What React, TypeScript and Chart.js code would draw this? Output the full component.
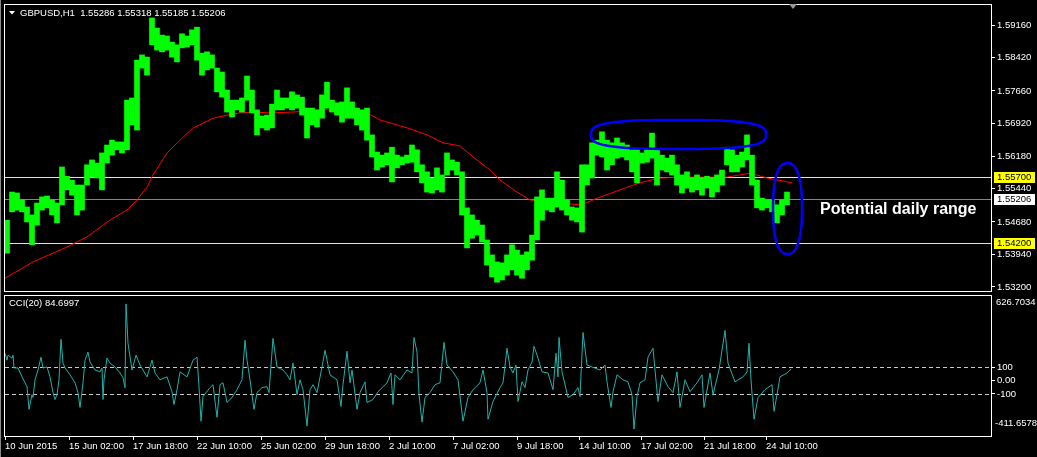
import React, { useEffect, useRef } from "react";
import { Chart, registerables } from "chart.js";

Chart.register(...registerables);

const FONT = "'Liberation Sans', Arial, sans-serif";

// GBPUSD H1 price, aggregated in groups of 5 hourly bars (high / low of each group)
const groupSize = 5;
const groupHigh = [
  1.5472, 1.5536, 1.5534, 1.5518, 1.5502, 1.5484, 1.5511, 1.5525, 1.5527, 1.5518,
  1.5511, 1.5593, 1.5572, 1.5563, 1.5552, 1.5552, 1.5598, 1.5609, 1.5602, 1.5625,
  1.5643, 1.5654, 1.5650, 1.5650, 1.5745, 1.5750, 1.5836, 1.5848, 1.5843, 1.5932,
  1.5909, 1.5893, 1.5891, 1.5877, 1.5871, 1.5896, 1.5891, 1.5905, 1.5911, 1.5852,
  1.5855, 1.5848, 1.5818, 1.5809, 1.5768, 1.5745, 1.5745, 1.5750, 1.5800, 1.5768,
  1.5723, 1.5709, 1.5711, 1.5736, 1.5768, 1.5750, 1.5750, 1.5764, 1.5757, 1.5752,
  1.5727, 1.5727, 1.5723, 1.5757, 1.5786, 1.5745, 1.5739, 1.5741, 1.5773, 1.5741,
  1.5727, 1.5723, 1.5727, 1.5666, 1.5627, 1.5620, 1.5625, 1.5638, 1.5620, 1.5616,
  1.5620, 1.5643, 1.5632, 1.5598, 1.5582, 1.5568, 1.5591, 1.5575, 1.5625, 1.5609,
  1.5604, 1.5582, 1.5500, 1.5484, 1.5472, 1.5461, 1.5427, 1.5393, 1.5377, 1.5375,
  1.5393, 1.5416, 1.5404, 1.5393, 1.5400, 1.5438, 1.5525, 1.5541, 1.5522, 1.5522,
  1.5582, 1.5563, 1.5518, 1.5502, 1.5500, 1.5598, 1.5598, 1.5648, 1.5654, 1.5673,
  1.5654, 1.5648, 1.5659, 1.5648, 1.5643, 1.5632, 1.5632, 1.5625, 1.5632, 1.5670,
  1.5632, 1.5620, 1.5613, 1.5620, 1.5598, 1.5575, 1.5582, 1.5568, 1.5575, 1.5568,
  1.5572, 1.5568, 1.5575, 1.5586, 1.5638, 1.5632, 1.5620, 1.5627, 1.5666, 1.5620,
  1.5563, 1.5522, 1.5518, 1.5518, 1.5507, 1.5518, 1.5536,
];
const groupLow = [
  1.5397, 1.5491, 1.5495, 1.5491, 1.5468, 1.5416, 1.5461, 1.5495, 1.5500, 1.5484,
  1.5466, 1.5507, 1.5541, 1.5529, 1.5484, 1.5495, 1.5552, 1.5570, 1.5568, 1.5541,
  1.5602, 1.5620, 1.5632, 1.5625, 1.5632, 1.5689, 1.5677, 1.5818, 1.5802, 1.5871,
  1.5859, 1.5855, 1.5859, 1.5843, 1.5832, 1.5864, 1.5866, 1.5871, 1.5836, 1.5802,
  1.5814, 1.5818, 1.5764, 1.5752, 1.5718, 1.5707, 1.5723, 1.5718, 1.5745, 1.5716,
  1.5666, 1.5682, 1.5677, 1.5682, 1.5723, 1.5723, 1.5727, 1.5723, 1.5727, 1.5711,
  1.5659, 1.5689, 1.5684, 1.5704, 1.5727, 1.5718, 1.5711, 1.5695, 1.5704, 1.5704,
  1.5689, 1.5677, 1.5654, 1.5616, 1.5586, 1.5593, 1.5598, 1.5559, 1.5591, 1.5598,
  1.5602, 1.5604, 1.5582, 1.5557, 1.5536, 1.5534, 1.5541, 1.5536, 1.5575, 1.5586,
  1.5575, 1.5484, 1.5409, 1.5431, 1.5438, 1.5422, 1.5370, 1.5343, 1.5331, 1.5336,
  1.5347, 1.5359, 1.5347, 1.5340, 1.5359, 1.5381, 1.5427, 1.5472, 1.5495, 1.5491,
  1.5502, 1.5495, 1.5484, 1.5472, 1.5468, 1.5445, 1.5552, 1.5568, 1.5620, 1.5616,
  1.5586, 1.5598, 1.5613, 1.5616, 1.5609, 1.5582, 1.5557, 1.5602, 1.5604, 1.5613,
  1.5552, 1.5586, 1.5582, 1.5575, 1.5552, 1.5534, 1.5545, 1.5536, 1.5541, 1.5529,
  1.5545, 1.5525, 1.5536, 1.5552, 1.5598, 1.5582, 1.5582, 1.5593, 1.5609, 1.5552,
  1.5500, 1.5495, 1.5500, 1.5491, 1.5466, 1.5484, 1.5507,
];

// Red moving average (bar index, value)
const maBars = [0, 28, 62, 82, 105, 122, 132, 142, 148, 162, 175, 188, 195, 208, 222, 235, 248, 265, 288, 322, 362, 375, 402, 422, 438, 455, 468, 485, 495, 512, 525, 548, 577, 592, 615, 635, 655, 682, 722, 745, 762, 787];
const maValues = [1.5340, 1.5377, 1.5411, 1.5434, 1.5472, 1.5495, 1.5518, 1.5547, 1.5575, 1.5625, 1.5654, 1.5682, 1.5689, 1.5704, 1.5711, 1.5716, 1.5718, 1.5716, 1.5718, 1.5723, 1.5716, 1.5700, 1.5682, 1.5666, 1.5648, 1.5641, 1.5616, 1.5586, 1.5563, 1.5536, 1.5518, 1.5511, 1.5507, 1.5522, 1.5541, 1.5557, 1.5568, 1.5570, 1.5570, 1.5579, 1.5568, 1.5557];

const priceTicks = [1.5916, 1.5842, 1.5766, 1.5692, 1.5618, 1.5544, 1.5468, 1.5394, 1.5320];
const priceMin = 1.53109;
const priceMax = 1.59615;
const supportLevels = [1.5570, 1.5420];
const bidPrice = 1.55206;

// CCI(20)
const cciBars = [
  0, 2, 3, 7, 8, 9, 13, 17, 20, 22,
  24, 27, 28, 30, 33, 36, 38, 42, 45, 48,
  50, 52, 54, 56, 58, 60, 65, 70, 73, 75,
  78, 80, 83, 85, 90, 95, 97, 98, 99, 102,
  105, 110, 115, 118, 120, 121, 123, 127, 131, 135,
  142, 147, 150, 155, 162, 167, 169, 172, 175, 182,
  188, 192, 194, 196, 198, 205, 208, 212, 215, 218,
  222, 227, 232, 237, 240, 242, 245, 249, 252, 257,
  262, 264, 268, 272, 278, 282, 285, 288, 292, 295,
  298, 302, 305, 308, 312, 317, 320, 325, 332, 336,
  338, 342, 345, 347, 352, 355, 360, 362, 368, 373,
  382, 386, 388, 390, 395, 402, 407, 409, 412, 414,
  417, 420, 425, 430, 435, 439, 442, 448, 453, 458,
  463, 468, 475, 478, 482, 483, 488, 495, 498, 502,
  505, 508, 511, 513, 517, 520, 523, 527, 529, 533,
  537, 543, 548, 551, 553, 554, 557, 563, 568, 573,
  575, 578, 582, 587, 595, 600, 602, 606, 608, 612,
  618, 623, 627, 629, 632, 635, 640, 643, 648, 650,
  653, 657, 663, 668, 672, 675, 680, 685, 692, 697,
  699, 705, 708, 714, 720, 723, 730, 738, 742, 744,
  746, 749, 753, 760, 767, 769, 772, 775, 782, 786,
];
const cciValues = [
  202, 151, 188, 166, 188, 93, 93, 27, -17, -46,
  -214, -105, -126, 5, 78, 173, 93, 100, 27, -90,
  -141, -105, 5, 305, 129, 93, 42, -17, -90, -200,
  -17, 151, 210, 137, 78, 64, 93, -141, 5, 166,
  129, 100, 56, 20, -53, 568, 276, 78, 188, 115,
  27, 151, 56, 5, 27, -83, -178, -68, 64, 27,
  151, 173, -46, -302, -119, -53, -31, -273, -31, -17,
  -163, -126, -68, 5, 298, 151, 5, -214, -90, -53,
  -46, -90, 312, 100, 78, 42, 5, 129, -105, 5,
  -68, -338, -68, -31, -90, 100, 224, 42, 5, -192,
  -31, 217, -17, 78, -214, -90, -10, -163, -141, -83,
  -17, 56, -178, 42, 5, 78, 56, 319, 210, -105,
  -309, -126, -90, -31, -17, 283, 115, 64, 5, -302,
  -126, -68, -17, 78, -90, -287, -156, -53, -17, 239,
  100, 56, 115, -156, -10, -53, 78, 137, 254, 166,
  64, 56, -68, 202, 27, 319, 64, -126, -105, -53,
  -119, 356, 115, 100, 78, 115, -10, -200, -83, 42,
  5, -10, -105, -360, -119, -17, 5, 173, 239, 78,
  -156, 42, -46, -90, 64, -200, 5, -83, -17, 42,
  -200, 56, -105, 78, 371, 129, -10, 27, 64, 276,
  5, -287, -126, -68, -31, -229, -105, 27, 56, 84.7,
];
const cciMin = -411.6578;
const cciMax = 626.7034;
const cciTicks = [100, 0, -100];
const cciTickLabels = ["100", "0.00", "-100"];
const cciLevels = [100, -100];

const xTickBars = [0, 64, 128, 192, 256, 320, 384, 448, 512, 574, 636, 699, 761];
const xTickLabels = [
  "10 Jun 2015", "15 Jun 02:00", "17 Jun 18:00", "22 Jun 10:00", "25 Jun 02:00",
  "29 Jun 18:00", "2 Jul 10:00", "7 Jul 02:00", "9 Jul 18:00", "14 Jul 10:00",
  "17 Jul 02:00", "21 Jul 18:00", "24 Jul 10:00",
];
const xMax = 986;

const titleText = "GBPUSD,H1  1.55286 1.55318 1.55185 1.55206";
const cciTitle = "CCI(20) 84.6997";
const noteText = "Potential daily range";
const noteAnchor = { bar: 815, price: 1.5495 };
const rangeEllipse = { bars: [586, 761], prices: [1.5700, 1.5634], n: 3 };
const dailyEllipse = { bars: [768, 797], prices: [1.5602, 1.5395], n: 2.4 };
const shiftBar = 788;

function superEllipse(ctx: CanvasRenderingContext2D, x1: number, y1: number, x2: number, y2: number, n: number) {
  const cx = (x1 + x2) / 2, cy = (y1 + y2) / 2;
  const a = Math.abs(x2 - x1) / 2, b = Math.abs(y2 - y1) / 2;
  ctx.beginPath();
  for (let i = 0; i <= 160; i++) {
    const t = (i / 160) * Math.PI * 2;
    const c = Math.cos(t), s = Math.sin(t);
    const x = cx + a * Math.sign(c) * Math.pow(Math.abs(c), 2 / n);
    const y = cy + b * Math.sign(s) * Math.pow(Math.abs(s), 2 / n);
    if (i === 0) ctx.moveTo(x, y); else ctx.lineTo(x, y);
  }
  ctx.closePath();
  ctx.stroke();
}

const noPad = (s: any) => {
  s.paddingTop = 0;
  s.paddingBottom = 0;
};

const overlayMain = {
  id: "overlayMain",
  beforeDatasetsDraw(chart: any) {
    const { ctx, chartArea, scales } = chart;
    const y = scales.y;
    ctx.save();
    ctx.lineWidth = 1;
    ctx.strokeStyle = "#ffff00";
    supportLevels.forEach((v) => {
      const py = Math.round(y.getPixelForValue(v)) + 0.5;
      ctx.beginPath();
      ctx.moveTo(chartArea.left, py);
      ctx.lineTo(chartArea.right, py);
      ctx.stroke();
    });
    ctx.strokeStyle = "#778899";
    const pb = Math.round(y.getPixelForValue(bidPrice)) + 0.5;
    ctx.beginPath();
    ctx.moveTo(chartArea.left, pb);
    ctx.lineTo(chartArea.right, pb);
    ctx.stroke();
    ctx.restore();
  },
  afterDraw(chart: any) {
    const { ctx, chartArea, scales } = chart;
    const x = scales.x, y = scales.y;
    ctx.save();
    // frame
    ctx.strokeStyle = "#ffffff";
    ctx.lineWidth = 1;
    ctx.strokeRect(chartArea.left - 0.5, chartArea.top - 0.5, chartArea.right - chartArea.left + 1, chartArea.bottom - chartArea.top + 1);
    ctx.strokeStyle = "#8a8a8a";
    ctx.beginPath();
    ctx.moveTo(0.5, 0);
    ctx.lineTo(0.5, chart.height);
    ctx.stroke();
    // title
    ctx.fillStyle = "#ffffff";
    ctx.beginPath();
    ctx.moveTo(9, 11);
    ctx.lineTo(15, 11);
    ctx.lineTo(12, 14.5);
    ctx.closePath();
    ctx.fill();
    ctx.font = `9.5px ${FONT}`;
    ctx.textBaseline = "middle";
    ctx.textAlign = "left";
    ctx.fillText(titleText, 20, 13);
    // chart shift marker
    const sx = x.getPixelForValue(shiftBar);
    ctx.fillStyle = "#9a9a9a";
    ctx.beginPath();
    ctx.moveTo(sx - 4, chartArea.top - 1);
    ctx.lineTo(sx + 4, chartArea.top - 1);
    ctx.lineTo(sx, chartArea.top + 4);
    ctx.closePath();
    ctx.fill();
    // axis price boxes
    const boxLeft = chartArea.right + 3;
    const drawBox = (v: number, bg: string) => {
      const py = Math.round(y.getPixelForValue(v));
      ctx.fillStyle = bg;
      ctx.fillRect(boxLeft, py - 5, 41, 11);
      ctx.fillStyle = "#000000";
      ctx.font = `9.5px ${FONT}`;
      ctx.textBaseline = "middle";
      ctx.fillText(v.toFixed(5), chartArea.right + 6, py + 0.5);
    };
    supportLevels.forEach((v) => drawBox(v, "#ffff00"));
    drawBox(bidPrice, "#ffffff");
    // ellipses
    ctx.strokeStyle = "#0000ff";
    ctx.lineWidth = 2.5;
    [rangeEllipse, dailyEllipse].forEach((e) => {
      superEllipse(
        ctx,
        x.getPixelForValue(e.bars[0]),
        y.getPixelForValue(e.prices[0]),
        x.getPixelForValue(e.bars[1]),
        y.getPixelForValue(e.prices[1]),
        e.n
      );
    });
    // note
    ctx.fillStyle = "#ffffff";
    ctx.font = `bold 16px ${FONT}`;
    ctx.textBaseline = "middle";
    ctx.textAlign = "left";
    ctx.fillText(noteText, x.getPixelForValue(noteAnchor.bar), y.getPixelForValue(noteAnchor.price));
    ctx.restore();
  },
};

const overlayCci = {
  id: "overlayCci",
  beforeDatasetsDraw(chart: any) {
    const { ctx, chartArea, scales } = chart;
    ctx.save();
    ctx.strokeStyle = "#c8c8c8";
    ctx.lineWidth = 1;
    ctx.setLineDash([4, 3]);
    cciLevels.forEach((v) => {
      const py = Math.round(scales.y.getPixelForValue(v)) + 0.5;
      ctx.beginPath();
      ctx.moveTo(chartArea.left, py);
      ctx.lineTo(chartArea.right, py);
      ctx.stroke();
    });
    ctx.restore();
  },
  afterDraw(chart: any) {
    const { ctx, chartArea } = chart;
    ctx.save();
    ctx.strokeStyle = "#ffffff";
    ctx.lineWidth = 1;
    ctx.strokeRect(chartArea.left - 0.5, chartArea.top - 0.5, chartArea.right - chartArea.left + 1, chartArea.bottom - chartArea.top + 1);
    ctx.strokeStyle = "#8a8a8a";
    ctx.beginPath();
    ctx.moveTo(0.5, 0);
    ctx.lineTo(0.5, chart.height);
    ctx.stroke();
    ctx.fillStyle = "#ffffff";
    ctx.font = `9.5px ${FONT}`;
    ctx.textBaseline = "middle";
    ctx.textAlign = "left";
    ctx.fillText(cciTitle, 9, chartArea.top + 7);
    ctx.fillText(cciMax.toFixed(4), chartArea.right + 5, chartArea.top + 6);
    ctx.fillText(cciMin.toFixed(4), chartArea.right + 4, chartArea.bottom - 13);
    ctx.restore();
  },
};

export default function App() {
  const mainRef = useRef<HTMLCanvasElement>(null);
  const cciRef = useRef<HTMLCanvasElement>(null);

  useEffect(() => {
    Chart.defaults.font.family = FONT;
    const mainChart = new Chart(mainRef.current as HTMLCanvasElement, {
      type: "bar",
      data: {
        datasets: [
          {
            type: "line",
            data: maBars.map((b, i) => ({ x: b, y: maValues[i] })),
            borderColor: "#ff0000",
            borderWidth: 1,
            pointRadius: 0,
            tension: 0,
            order: 2,
          } as any,
          {
            type: "bar",
            data: groupHigh.map((h, k) => ({ x: k * groupSize + 2, y: [groupLow[k], h] })),
            backgroundColor: "#00ff00",
            borderWidth: 0,
            barPercentage: 1,
            categoryPercentage: 1,
            order: 1,
          } as any,
        ],
      },
      options: {
        responsive: false,
        animation: false,
        devicePixelRatio: 1,
        events: [],
        layout: { padding: { left: 5, top: 5, bottom: 4, right: 0 } },
        plugins: { legend: { display: false }, tooltip: { enabled: false } },
        scales: {
          x: { type: "linear", min: 0, max: xMax, offset: false, display: false },
          y: {
            type: "linear",
            position: "right",
            min: priceMin,
            max: priceMax,
            beginAtZero: false,
            afterBuildTicks: (s: any) => {
              s.ticks = priceTicks.map((v) => ({ value: v }));
            },
            afterFit: (s: any) => {
              s.width = 46;
              noPad(s);
            },
            ticks: {
              color: "#ffffff",
              font: { family: FONT, size: 9.5 },
              padding: 2,
              autoSkip: false,
              callback: (v: any) => Number(v).toFixed(5),
            },
            grid: { drawOnChartArea: false, color: "#ffffff", tickLength: 4 },
            border: { display: false },
          },
        },
      } as any,
      plugins: [overlayMain],
    });

    const cciChart = new Chart(cciRef.current as HTMLCanvasElement, {
      type: "line",
      data: {
        datasets: [
          {
            data: cciBars.map((b, i) => ({ x: b, y: cciValues[i] })),
            borderColor: "#20b2aa",
            borderWidth: 1,
            pointRadius: 0,
            tension: 0,
          },
        ],
      },
      options: {
        responsive: false,
        animation: false,
        devicePixelRatio: 1,
        events: [],
        layout: { padding: { left: 5, top: 3, bottom: 0, right: 0 } },
        plugins: { legend: { display: false }, tooltip: { enabled: false } },
        scales: {
          x: {
            type: "linear",
            min: 0,
            max: xMax,
            offset: false,
            afterBuildTicks: (s: any) => {
              s.ticks = xTickBars.map((v) => ({ value: v }));
            },
            afterFit: (s: any) => {
              s.height = 21;
              s.paddingLeft = 0;
              s.paddingRight = 0;
            },
            ticks: {
              color: "#ffffff",
              font: { family: FONT, size: 9.5 },
              align: "start",
              maxRotation: 0,
              minRotation: 0,
              autoSkip: false,
              padding: 1,
              callback: (_v: any, i: number) => xTickLabels[i],
            },
            grid: { drawOnChartArea: false, color: "#ffffff", tickLength: 4 },
            border: { display: false },
          },
          y: {
            type: "linear",
            position: "right",
            min: cciMin,
            max: cciMax,
            afterBuildTicks: (s: any) => {
              s.ticks = cciTicks.map((v) => ({ value: v }));
            },
            afterFit: (s: any) => {
              s.width = 46;
              noPad(s);
            },
            ticks: {
              color: "#ffffff",
              font: { family: FONT, size: 9.5 },
              padding: 2,
              autoSkip: false,
              callback: (_v: any, i: number) => cciTickLabels[i],
            },
            grid: { drawOnChartArea: false, color: "#ffffff", tickLength: 4 },
            border: { display: false },
          },
        },
      } as any,
      plugins: [overlayCci],
    });

    return () => {
      mainChart.destroy();
      cciChart.destroy();
    };
  }, []);

  return (
    <div style={{ position: "fixed", left: 0, top: 0, width: 1037, height: 457, background: "#000000", overflow: "hidden" }}>
      <canvas ref={mainRef} width={1037} height={295} style={{ position: "absolute", left: 0, top: 0 }} />
      <canvas ref={cciRef} width={1037} height={164} style={{ position: "absolute", left: 0, top: 293 }} />
    </div>
  );
}
